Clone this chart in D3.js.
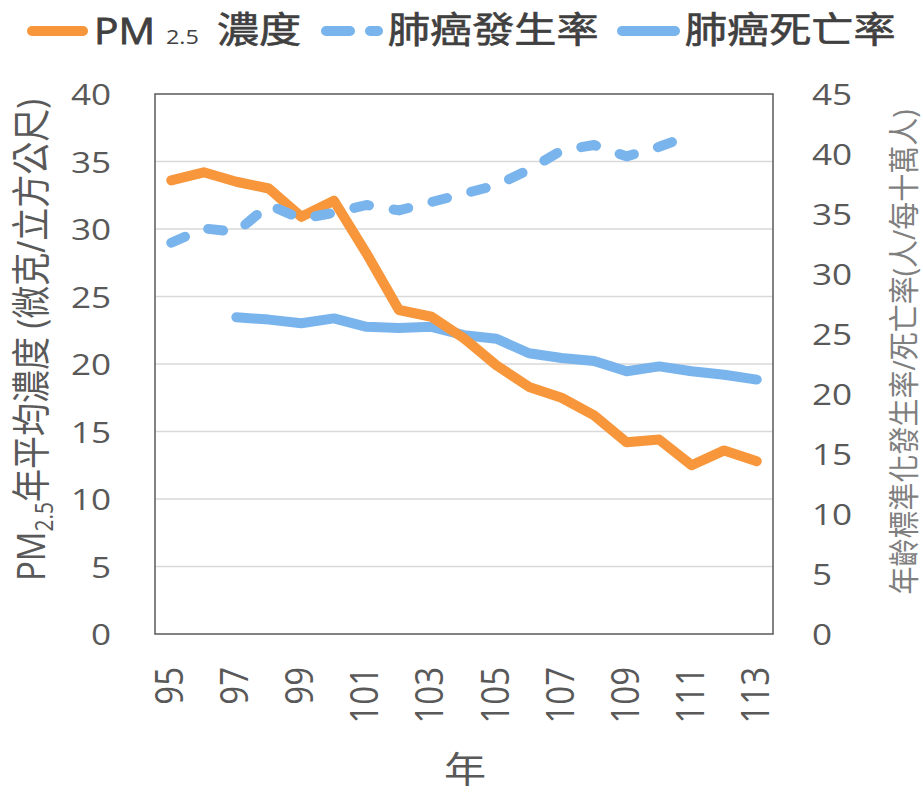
<!DOCTYPE html>
<html>
<head>
<meta charset="utf-8">
<script src="https://cdn.jsdelivr.net/npm/d3@7"></script>
<style>
  body { margin: 0; background: #fff; }
  text { font-family: "Open Sans", "Noto Sans CJK TC", sans-serif; }
</style>
</head>
<body>
<div id="chart"></div>
<script>
// data
var years = ["95", "96", "97", "98", "99", "100", "101", "102", "103", "104",
  "105", "106", "107", "108", "109", "110", "111", "112", "113"];
var yearLabels = ["95", "97", "99", "101", "103", "105", "107", "109", "111", "113"];
var pm25 = [33.6, 34.2, 33.5, 33.0, 30.9, 32.1, 28.2, 24.0, 23.5, 21.9,
  19.9, 18.3, 17.5, 16.2, 14.2, 14.4, 12.5, 13.6, 12.8];
var incidence = [32.6, 33.8, 33.5, 35.75, 34.6, 35.1, 35.75, 35.3, 36.0, 36.7,
  37.4, 38.7, 40.3, 40.75, 39.8, 40.6, 41.6, null, null];
var mortality = [null, null, 26.4, 26.2, 25.9, 26.3, 25.6, 25.5, 25.6, 24.9,
  24.6, 23.4, 23.0, 22.75, 21.9, 22.3, 21.9, 21.6, 21.2];
var leftTicks = [0, 5, 10, 15, 20, 25, 30, 35, 40];
var rightTicks = [0, 5, 10, 15, 20, 25, 30, 35, 40, 45];

var svgWidth = 923;
var svgHeight = 796;
var plot = { left: 155, right: 773, top: 94, bottom: 634 };
var stretch = 1.17;   // the reference text is drawn a bit wide

var orange = "#f7963a";
var blue = "#7ab4ec";

var svg = d3.select("#chart")
  .append("svg")
  .attr("width", svgWidth)
  .attr("height", svgHeight);

// scales
var xScale = d3.scalePoint()
  .domain(years)
  .range([plot.left, plot.right])
  .padding(0.5);

var yLeft = d3.scaleLinear()
  .domain([0, 40])
  .range([plot.bottom, plot.top]);

var yRight = d3.scaleLinear()
  .domain([0, 45])
  .range([plot.bottom, plot.top]);

// gridlines
svg.append("g")
  .selectAll("line")
  .data(leftTicks.filter(d => d > 0 && d < 40))
  .enter()
  .append("line")
  .attr("x1", plot.left)
  .attr("x2", plot.right)
  .attr("y1", d => yLeft(d))
  .attr("y2", d => yLeft(d))
  .attr("stroke", "#d9d9d9")
  .attr("stroke-width", 1.3);

// frame
svg.append("rect")
  .attr("x", plot.left)
  .attr("y", plot.top)
  .attr("width", plot.right - plot.left)
  .attr("height", plot.bottom - plot.top)
  .attr("fill", "none")
  .attr("stroke", "#595959")
  .attr("stroke-width", 1.5);

// left tick labels
svg.append("g")
  .selectAll("text")
  .data(leftTicks)
  .enter()
  .append("text")
  .attr("transform", d => `translate(111, ${yLeft(d) + 11}) scale(${stretch}, 1)`)
  .attr("text-anchor", "end")
  .attr("font-size", "30px")
  .attr("fill", "#595959")
  .text(d => d);

// right tick labels
svg.append("g")
  .selectAll("text")
  .data(rightTicks)
  .enter()
  .append("text")
  .attr("transform", d => `translate(812, ${yRight(d) + 11}) scale(${stretch}, 1)`)
  .attr("text-anchor", "start")
  .attr("font-size", "30px")
  .attr("fill", "#595959")
  .text(d => d);

// x tick labels, rotated
svg.append("g")
  .selectAll("text")
  .data(yearLabels)
  .enter()
  .append("text")
  .attr("transform", d => `translate(${xScale(d) + 12}, 667) scale(${stretch}, 1) rotate(-90)`)
  .attr("text-anchor", "end")
  .attr("font-size", "33px")
  .attr("fill", "#595959")
  .text(d => d);

// axis titles
var leftTitle = svg.append("text")
  .attr("transform", `translate(45, 340) scale(${stretch}, 1) rotate(-90)`)
  .attr("text-anchor", "middle")
  .attr("font-size", "33px")
  .attr("fill", "#595959");
leftTitle.append("tspan").text("PM");
leftTitle.append("tspan").attr("font-size", "21px").attr("dy", 7).text("2.5");
leftTitle.append("tspan").attr("dy", -7).text("年平均濃度 (微克/立方公尺)");

svg.append("text")
  .attr("transform", `translate(915, 352) scale(1.1, 1) rotate(-90)`)
  .attr("text-anchor", "middle")
  .attr("font-size", "28px")
  .attr("fill", "#7f7f7f")
  .text("年齡標準化發生率/死亡率(人/每十萬人)");

svg.append("text")
  .attr("transform", `translate(465, 783) scale(${stretch}, 1)`)
  .attr("text-anchor", "middle")
  .attr("font-size", "36px")
  .attr("fill", "#595959")
  .text("年");

// lines
var leftLine = d3.line()
  .defined(d => d.v !== null)
  .x(d => xScale(d.year))
  .y(d => yLeft(d.v));

var rightLine = d3.line()
  .defined(d => d.v !== null)
  .x(d => xScale(d.year))
  .y(d => yRight(d.v));

function pairs(values) {
  return years.map((y, i) => ({ year: y, v: values[i] }));
}

svg.append("path")
  .datum(pairs(mortality))
  .attr("d", rightLine)
  .attr("fill", "none")
  .attr("stroke", blue)
  .attr("stroke-width", 10)
  .attr("stroke-linejoin", "round")
  .attr("stroke-linecap", "round");

svg.append("path")
  .datum(pairs(pm25))
  .attr("d", leftLine)
  .attr("fill", "none")
  .attr("stroke", orange)
  .attr("stroke-width", 10)
  .attr("stroke-linejoin", "round")
  .attr("stroke-linecap", "round");

svg.append("path")
  .datum(pairs(incidence))
  .attr("d", rightLine)
  .attr("fill", "none")
  .attr("stroke", blue)
  .attr("stroke-width", 10)
  .attr("stroke-dasharray", "15,25")
  .attr("stroke-linejoin", "round")
  .attr("stroke-linecap", "round");

// legend
var legend = svg.append("g");

legend.append("line")
  .attr("x1", 32).attr("x2", 83)
  .attr("y1", 31).attr("y2", 31)
  .attr("stroke", orange)
  .attr("stroke-width", 10)
  .attr("stroke-linecap", "round");

legend.append("line")
  .attr("x1", 326).attr("x2", 378)
  .attr("y1", 31).attr("y2", 31)
  .attr("stroke", blue)
  .attr("stroke-width", 10)
  .attr("stroke-dasharray", "24,20")
  .attr("stroke-linecap", "round");

legend.append("line")
  .attr("x1", 622).attr("x2", 675)
  .attr("y1", 31).attr("y2", 31)
  .attr("stroke", blue)
  .attr("stroke-width", 10)
  .attr("stroke-linecap", "round");

function legendText(x, y, size, str, sx, sw) {
  legend.append("text")
    .attr("transform", `translate(${x}, ${y}) scale(${sx || stretch}, 1)`)
    .attr("font-size", size)
    .attr("fill", "#404040")
    .attr("stroke", "#404040")
    .attr("stroke-width", sw === undefined ? 0.6 : sw)
    .text(str);
}

legendText(94, 44, "37px", "PM", 1.1, 0.8);
legendText(166, 44, "20px", "2.5", stretch, 0);
legendText(217, 43, "36px", "濃度");
legendText(388, 43, "36px", "肺癌發生率");
legendText(685, 43, "36px", "肺癌死亡率");
</script>
</body>
</html>
